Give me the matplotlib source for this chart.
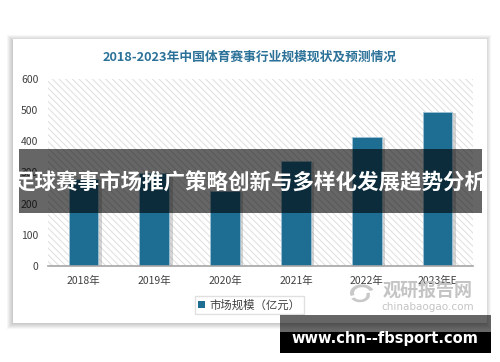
import matplotlib
matplotlib.use("Agg")
import matplotlib.pyplot as plt
from matplotlib.patches import Rectangle, Patch, Wedge
import matplotlib.patheffects as pe

plt.rcParams['font.family'] = ['Noto Sans CJK SC', 'DejaVu Sans']
plt.rcParams['hatch.linewidth'] = 0.7

categories = ["2018年", "2019年", "2020年", "2021年", "2022年", "2023年E"]
values = [280, 298, 241, 338, 415, 495]
yticks = [0, 100, 200, 300, 400, 500, 600]
title = "2018-2023年中国体育赛事行业规模现状及预测情况"
legend_label = "市场规模（亿元）"
overlay_text = "足球赛事市场推广策略创新与多样化发展趋势分析"
footer_text = "www.chn--fbsport.com"

W, H = 500, 362
fig = plt.figure(figsize=(W / 100, H / 100), dpi=100)
fig.patch.set_facecolor("white")


def frect(x0, y0, x1, y1, **kw):
    r = Rectangle((x0 / W, 1 - y1 / H), (x1 - x0) / W, (y1 - y0) / H,
                  transform=fig.transFigure, **kw)
    fig.add_artist(r)
    return r


# card shadow
for i in range(6):
    d = 6 - i
    frect(13 - d, 39 - d + 2, 487 + d - 2, 323 + d, facecolor="black",
          edgecolor="none", alpha=0.035, zorder=-3)
frect(13, 39, 487, 323, facecolor="white", edgecolor="none", zorder=-2)

# axes
ax = fig.add_axes([48 / W, 1 - 266 / H, (473 - 48) / W, (266 - 79) / H])
ax.set_facecolor("white")
ax.add_patch(Rectangle((0, 0), 1, 1, transform=ax.transAxes, facecolor="white",
                       edgecolor="#dedede", hatch="\\\\\\\\\\", linewidth=0, zorder=0))
x = list(range(len(categories)))
ax.bar(x, values, width=0.42, color="#1e6e94", edgecolor="#9fc3d5", linewidth=0.6,
       zorder=3,
       path_effects=[pe.SimplePatchShadow(offset=(2.5, -1), shadow_rgbFace="#888888", alpha=0.35),
                     pe.Normal()])
ax.set_xlim(-0.5, len(categories) - 0.5)
ax.set_ylim(0, 600)
ax.set_yticks(yticks)
ax.set_xticks(x)
ax.set_xticklabels(categories)
for s in ["left", "right", "top"]:
    ax.spines[s].set_visible(False)
ax.spines["bottom"].set_color("#a6a6a6")
ax.spines["bottom"].set_linewidth(1.2)
ax.spines["bottom"].set_zorder(4)
ax.tick_params(axis="y", length=0, pad=7, labelsize=7.5, labelcolor="#404040")
ax.tick_params(axis="x", length=0, pad=7, labelsize=7.5, labelcolor="#404040")

# title
fig.text(250 / W, 1 - 57 / H, title, ha="center", va="center", fontsize=9.2,
         fontweight="bold", color="#2b7198")

# legend
fig.legend(handles=[Patch(facecolor="#1e6e94", edgecolor="none")], labels=[legend_label],
           loc="center", bbox_to_anchor=(249.5 / W, 1 - 305 / H), frameon=True,
           fancybox=False, edgecolor="#d9d9d9", fontsize=8.2, handlelength=0.6,
           handleheight=0.6, handletextpad=0.4, borderpad=0.3,
           labelcolor="#404040")

# watermark
fig.add_artist(Wedge((362 / W, 1 - 293 / H), 0.024, 20, 200, width=0.008,
                     transform=fig.transFigure, facecolor="#c8c8c8", edgecolor="none",
                     zorder=6))
fig.add_artist(Wedge((360 / W, 1 - 295 / H), 0.02, 210, 380, width=0.007,
                     transform=fig.transFigure, facecolor="#c8c8c8", edgecolor="none",
                     zorder=6))
fig.text(428 / W, 1 - 290 / H, "观研报告网", ha="center", va="center", fontsize=13,
         fontweight="bold", color="#c4c4c4", zorder=6)
fig.text(428 / W, 1 - 307 / H, "chinabaogao.com", ha="center", va="center", fontsize=7.5,
         color="#c4c4c4", zorder=6, family=["DejaVu Sans"])

# overlay band
frect(19, 149, 482, 213, facecolor="black", edgecolor="none", alpha=0.6, zorder=10)
fig.text(250 / W, 1 - 183 / H, overlay_text, ha="center", va="center", fontsize=15.5,
         fontweight="bold", color="white", zorder=11)

# footer
frect(280, 315, 491, 333, facecolor="black", edgecolor="none", alpha=0.6, zorder=10)
frect(280, 332, 491, 353, facecolor="black", edgecolor="none", zorder=10)
fig.text(385 / W, 1 - 339 / H, footer_text, ha="center", va="center", fontsize=10.5,
         fontweight="bold", color="white", zorder=11, family=["DejaVu Sans"])

fig.savefig("out.png", dpi=100)
